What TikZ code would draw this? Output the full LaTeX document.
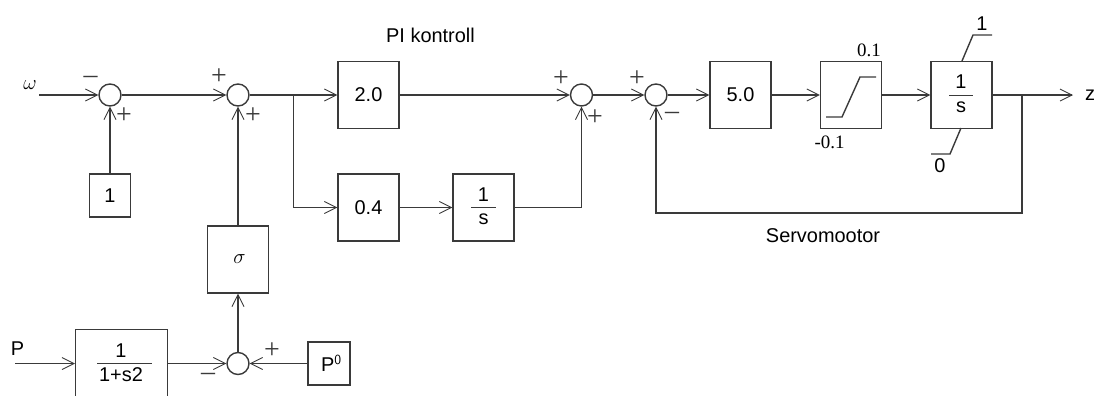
\documentclass[tikz,border=0pt]{standalone}
\usepackage{fontspec}
\setmainfont{Liberation Sans}
\newfontfamily\serifnums{Liberation Serif}
\usetikzlibrary{arrows.meta,calc}
\definecolor{ink}{HTML}{3A3A3A}
\tikzset{
  x=1bp,y=-1bp,
  line/.style={draw=ink,line width=1.4bp},
  wire/.style={line,-{Straight Barb[length=12bp,width=12bp,line width=0.9bp]}},
  blockbox/.style={line,rectangle,minimum width=61bp,minimum height=67bp,inner sep=0pt,text=black},
  sumnode/.style={line,circle,minimum size=22bp,inner sep=0pt},
  lbl/.style={text=black,font=\fontsize{20}{22}\selectfont,inner sep=0pt},
  serif/.style={text=black,inner sep=0pt,font=\serifnums\fontsize{19}{21}\selectfont},
  sgn/.style={text=ink,font=\serifnums\fontsize{28}{28}\selectfont,inner sep=0pt},
}
\begin{document}
\begin{tikzpicture}
\useasboundingbox (0,0) rectangle (1096,395);
\clip (0,0) rectangle (1096,395);
\node[sumnode] (s1) at (110,95) {};
\node[sumnode] (s2) at (238,95) {};
\node[sumnode] (s3) at (238,363.5) {};
\node[sumnode] (s4) at (581.5,95) {};
\node[sumnode] (s5) at (656,95) {};
\node[blockbox,lbl,minimum width=41bp,minimum height=43bp] (one) at (110,195.5) {1};
\node[blockbox,lbl] (sig) at (238,259.5) {\hspace{3bp}$\sigma$};
\node[blockbox,minimum width=92bp,minimum height=70bp,anchor=north west] (lag) at (75,329) {};
\node[lbl] (lagt) at (121,351) {1};
\node[lbl] (lagb) at (121,375) {1+s2};
\draw[line,line width=.8bp] (97,363) -- (152,363);
\node[blockbox,lbl,minimum width=42bp,minimum height=43bp] (p0) at (329,363.5) {\hspace{5bp}P$^{\mathsf{0}}$};
\node[blockbox,lbl] (k) at (368.5,95) {2.0};
\node[blockbox,lbl] (ki) at (368.5,207.5) {0.4};
\node[blockbox] (int1) at (483.5,207.5) {};
\node[lbl] (i1t) at (483.5,195) {1};
\node[lbl] (i1b) at (483.5,219) {s};
\draw[line,line width=.8bp] (471,207) -- (496,207);
\node[blockbox,lbl] (g) at (740.5,95) {5.0};
\node[blockbox] (sat) at (851,95) {};
\draw[line] (826,117) -- (842,117) -- (860,77) -- (876,77);
\node[blockbox] (int2) at (961.5,95) {};
\node[lbl] (i2t) at (961,82) {1};
\node[lbl] (i2b) at (961,107) {s};
\draw[line,line width=.8bp] (949,95) -- (973,95);
\coordinate (in1) at (39,95);
\coordinate (in2) at (15,363.5);
\coordinate (out) at (1073,95);
\coordinate (j1) at (293.5,95);
\coordinate (j2) at (1022,95);
\node[lbl] (w) at (30,85) {$\omega$};
\node[lbl] (pl) at (17.5,349) {P};
\node[lbl] (zl) at (1090,95) {z};
\node[lbl] (pik) at (430.5,35) {PI kontroll};
\node[lbl] (sm) at (823,236) {Servomootor};
\draw[wire] (in1) -- (s1);
\draw[wire] (s1) -- (s2);
\draw[wire] (one) -- (s1);
\draw[wire] (sig) -- (s2);
\draw[wire] (s3) -- (sig);
\draw[wire] (in2) -- (lag.west|-in2);
\draw[wire] (lag.east|-s3) -- (s3);
\draw[wire] (p0) -- (s3);
\draw[wire] (s2) -- (k);
\draw[wire] (k) -- (s4);
\draw[line] (j1) -- (j1|-ki);
\draw[wire] (j1|-ki) -- (ki);
\draw[wire] (ki) -- (int1);
\draw[wire] (int1) -| (s4);
\draw[wire] (s4) -- (s5);
\draw[wire] (s5) -- (g);
\draw[wire] (g) -- (sat);
\draw[wire] (sat) -- (int2);
\draw[wire] (int2) -- (out);
\draw[wire] (j2) |- (656,213) -- (s5);
\node[serif] (up) at (869,50) {0.1};
\node[serif] (lo) at (829.5,142) {-0.1};
\coordinate (a1) at (962,61);
\coordinate (a2) at (973,35);
\coordinate (a3) at (992,35);
\draw[line] (a1) -- (a2) -- (a3);
\coordinate (b1) at (961,128);
\coordinate (b2) at (950,154);
\coordinate (b3) at (931,154);
\draw[line] (b1) -- (b2) -- (b3);
\node[lbl] (u1) at (982,24) {1};
\node[lbl] (u0) at (940,166) {0};
\node[sgn] (m1) at (90.5,80) {–};
\node[sgn] (p1) at (124,116) {+};
\node[sgn] (p2) at (219,77) {+};
\node[sgn] (p3) at (253,116) {+};
\node[sgn] (p4) at (561,79) {+};
\node[sgn] (p5) at (595,118) {+};
\node[sgn] (p6) at (637,79) {+};
\node[sgn] (m2) at (672,116) {–};
\node[sgn] (p7) at (272,351) {+};
\node[sgn] (m3) at (208,377) {–};
\end{tikzpicture}
\end{document}
